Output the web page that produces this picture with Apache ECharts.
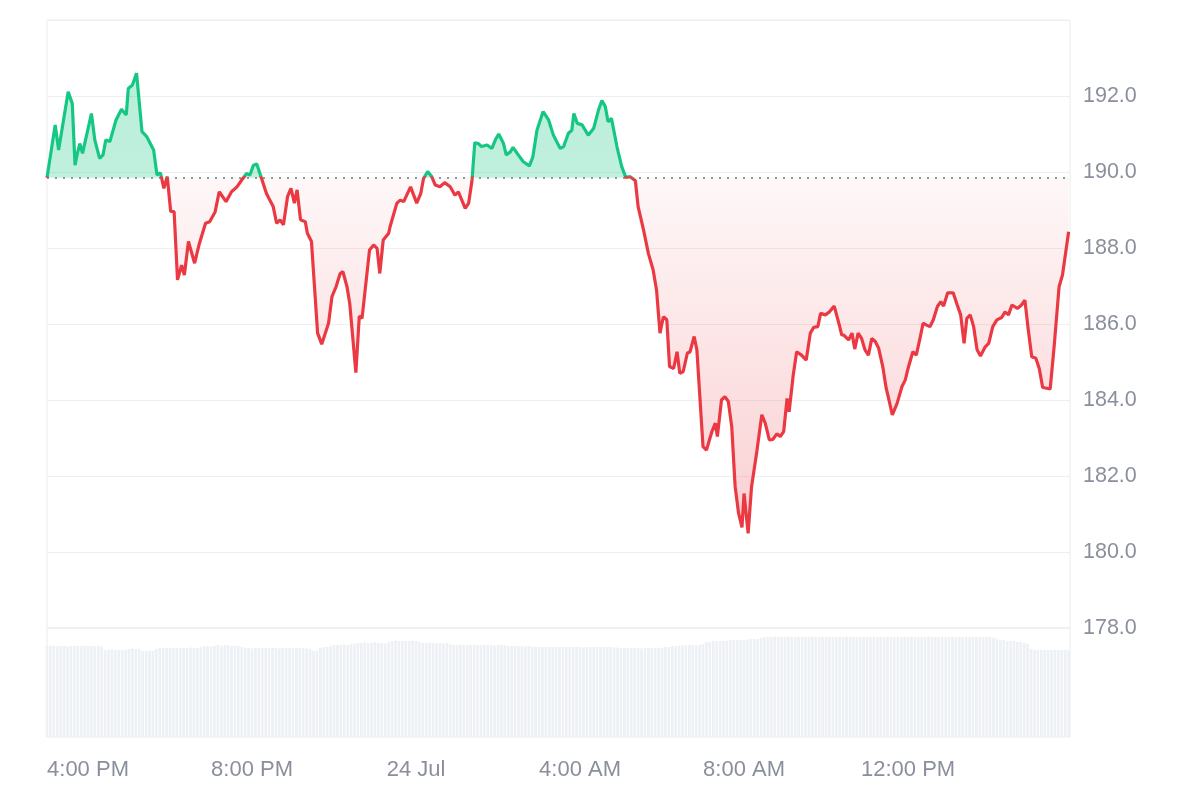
<!DOCTYPE html>
<html>
<head>
<meta charset="utf-8">
<script src="https://cdn.jsdelivr.net/npm/echarts@6/dist/echarts.min.js"></script>
<style>
html,body{margin:0;padding:0;background:#fff;}
#chart{width:1200px;height:800px;}
</style>
</head>
<body>
<div id="chart"></div>
<script>
// minutes after 3:00 PM (23 Jul)
const times = [0,12,17,31,37,41,44,48,52,65,70,77,82,86,92,101,109,116,119,125,131,139,146,156,161,166,171,176,181,186,
191,197,201,207,216,223,232,238,246,252,262,270,278,285,292,297,302,307,314,321,326,331,336,341,346,352,357,362,366,371,
378,381,387,396,402,412,417,423,429,433,439,443,452,457,461,472,478,483,487,492,500,502,512,517,522,532,541,547,551,557,
563,568,575,582,590,597,602,607,612,617,622,626,631,636,644,651,656,661,668,672,678,682,688,697,706,711,717,726,734,741,
751,756,763,768,771,776,783,792,800,807,812,817,821,826,834,841,847,853,861,865,873,880,887,892,897,902,907,911,917,922,
926,931,937,941,947,951,960,965,973,978,981,987,992,997,1002,1007,1012,1017,1020,1026,1031,1039,1046,1051,1057,1062,1068,1073,1078,1083,
1086,1092,1097,1104,1111,1117,1122,1128,1132,1139,1145,1152,1160,1163,1166,1173,1178,1182,1187,1192,1197,1202,1207,1212,1217,1223,1228,1231,1237,1244,
1251,1256,1260,1267,1272,1277,1282,1287,1292,1297,1303,1308,1312,1318,1326,1332,1337,1342,1346,1351,1356,1361,1366,1373,1378,1384,1390,1397,1402,1407,
1412,1420,1426,1431,1436,1441,1447,1452,1457,1463,1468,1474,1481,1486,1495];

const prices = [189.85,191.24,190.58,192.11,191.80,190.18,190.45,190.75,190.49,191.54,190.84,190.36,190.45,190.84,190.80,191.37,191.65,191.50,192.20,192.29,192.60,191.06,190.93,190.58,189.92,189.98,189.57,189.88,188.96,188.96,
187.16,187.55,187.29,188.17,187.60,188.12,188.65,188.69,188.95,189.48,189.22,189.48,189.61,189.79,189.96,189.92,190.18,190.21,189.83,189.44,189.26,189.09,188.65,188.74,188.61,189.35,189.57,189.18,189.53,188.74,
188.69,188.39,188.17,185.76,185.47,186.02,186.72,186.98,187.33,187.38,186.98,186.54,184.72,186.21,186.15,187.95,188.08,187.99,187.33,188.21,188.39,188.56,189.18,189.26,189.22,189.61,189.18,189.44,189.83,190.01,
189.88,189.66,189.61,189.72,189.61,189.39,189.48,189.26,189.04,189.18,189.79,190.77,190.75,190.67,190.71,190.62,190.84,191.00,190.75,190.45,190.53,190.65,190.49,190.27,190.16,190.40,191.10,191.59,191.37,190.97,
190.62,190.67,191.02,191.10,191.54,191.28,191.24,190.97,191.15,191.63,191.88,191.72,191.32,191.41,190.67,190.14,189.86,189.88,189.77,189.09,188.47,187.86,187.42,186.89,185.76,186.19,186.11,184.88,184.83,185.27,
184.70,184.75,185.23,185.27,185.67,185.32,182.77,182.68,183.17,183.39,183.04,184.00,184.09,183.96,183.30,181.72,181.02,180.65,181.54,180.49,181.72,182.68,183.61,183.39,182.95,182.96,183.11,183.04,183.17,184.04,
183.69,184.66,185.27,185.18,185.05,185.76,185.91,185.93,186.28,186.24,186.32,186.47,185.93,185.71,185.71,185.58,185.76,185.34,185.76,185.62,185.32,185.18,185.62,185.54,185.36,184.88,184.31,184.09,183.61,183.91,
184.35,184.53,184.83,185.27,185.18,185.58,186.02,185.97,185.93,186.11,186.46,186.59,186.47,186.82,186.82,186.50,186.24,185.49,186.15,186.24,185.93,185.32,185.16,185.40,185.49,185.93,186.11,186.17,186.32,186.24,
186.50,186.41,186.50,186.63,185.84,185.14,185.10,184.83,184.33,184.31,184.29,185.45,186.98,187.29,188.43];

// 5-minute volume bars (relative units)
const volumes = [
91,91,91.5,91,91,91,90.5,91,91,91,91,91.5,91,91,91,91,90.5,
87,87,87.5,87,87,87,87.5,
88,88.5,88,88,
86,86,86.5,86,
88,89,89,89,89,89,89,89,89,89,89.5,89,89,90,
91,91,90.5,91,92,91,92,92,91,91,91,90,
89,89,88.5,89,89,89,89,89,89,89,88.5,89,89,89,89,89,89,89,88.5,88,
86,86.5,
89,90,90,
91,92,92,92,92.5,92,93,93,
94,94,94.5,94,94,95,94,94,93.5,95,
96,96.5,96,96,96,96,96.5,96,95,
94,94,94.5,94,94,94,93.5,94,
93,92,92,92,92,92,92,92.5,92,92,92,92,92,91.5,92,92,92,
91,91,91,91,91,90.5,91,
90,90,90,90,90,90,90,90,90,
90,90,90,90,90,90,89.5,90,90,90,90,90,90,90,90,89.5,89.5,89,
89,89,89,89,89,88.5,89,89,89,89,89.5,89,90,90,
91,91,91.5,91.5,91.5,92,92,92,92,93,
95,95,96,96,96,96,96.5,97,97,97,97,97,97.5,98,98,98,99,
100,100,100,100.5,100,100,100,100,100,100,
100,100,100,100,100,100,100,100,100,100,
100,100,100,100,100.5,100,100,100,100,100,
100,100,100,100,100,100,100,100,100,100,
100,100,100,100,100,100,100,100,100.5,100,
100,100,100,100,100,100,100,100,100,100,
100,100,100,100,100,100,100,99.5,
98,97,97,96,96,96,95,95,94,93,
88,87,87,87,87,87,87,87,87,87,87,87
];

const basePrice = 189.85;
const xTickMinutes = [60,300,540,780,1020,1260];
const xTickLabels = ['4:00 PM','8:00 PM','24 Jul','4:00 AM','8:00 AM','12:00 PM'];

const green = '#16c784';
const red = '#ea3943';
const textColor = '#8a8f9c';
const fontFamily = 'Liberation Sans, Arial, sans-serif';

const priceData = times.map((t, i) => [t, prices[i]]);
const volData = volumes.map((v, i) => [i * 5, v]);

// split point of the colours inside the line's own bounding box (value-space ratio)
const pMax = Math.max(...prices), pMin = Math.min(...prices);
const frac = (pMax - basePrice) / (pMax - pMin);
const fracB = Math.min(1, frac + 0.0005);

const chart = echarts.init(document.getElementById('chart'), null, {renderer: 'canvas'});
const option = {
  animation: false,
  backgroundColor: '#fff',
  grid: [
    {left: 47, right: 130, top: 20, bottom: 172, show: true, borderColor: '#ececec', borderWidth: 1},
    {left: 47, right: 130, top: 628, bottom: 63, show: true, borderColor: '#ececec', borderWidth: 1}
  ],
  xAxis: [
    {type: 'value', gridIndex: 0, min: 0, max: 1497,
     axisLine: {show: false}, axisTick: {show: false}, axisLabel: {show: false}, splitLine: {show: false}},
    {type: 'value', gridIndex: 1, min: 0, max: 1497,
     axisLine: {show: false}, axisTick: {show: false}, splitLine: {show: false},
     axisLabel: {
       customValues: xTickMinutes,
       color: textColor, fontSize: 22, fontFamily: fontFamily, margin: 22,
       formatter: function (v) { const k = xTickMinutes.indexOf(Math.round(v)); return k >= 0 ? xTickLabels[k] : ''; }
     }}
  ],
  yAxis: [
    {type: 'value', gridIndex: 0, position: 'right', min: 178, max: 194, interval: 2,
     axisLine: {show: false}, axisTick: {show: false},
     splitLine: {show: true, lineStyle: {color: '#efefef', width: 1}},
     axisLabel: {color: textColor, fontSize: 21.5, fontFamily: fontFamily, margin: 13,
       padding: [4, 0, 0, 0],
       showMaxLabel: false,
       formatter: function (v) { return v >= 193.5 ? '' : v.toFixed(1); }}},
    {type: 'value', gridIndex: 1, min: 0, max: 109, show: false}
  ],
  series: [
    {
      type: 'line', xAxisIndex: 0, yAxisIndex: 0, data: priceData,
      symbol: 'none', smooth: false,
      lineStyle: {
        width: 3.2,
        color: new echarts.graphic.LinearGradient(0, 0, 0, 1, [
          {offset: 0, color: green},
          {offset: frac, color: green},
          {offset: fracB, color: red},
          {offset: 1, color: red}
        ])
      },
      areaStyle: {
        origin: basePrice,
        opacity: 1,
        color: new echarts.graphic.LinearGradient(0, 0, 0, 1, [
          {offset: 0, color: 'rgba(22,199,132,0.30)'},
          {offset: frac, color: 'rgba(22,199,132,0.27)'},
          {offset: fracB, color: 'rgba(234,57,67,0.04)'},
          {offset: 1, color: 'rgba(234,57,67,0.24)'}
        ])
      },
      markLine: {
        silent: true, symbol: 'none', label: {show: false},
        lineStyle: {type: [2, 6], color: '#777', width: 1.5},
        data: [{yAxis: basePrice}]
      },
      z: 3
    },
    {
      type: 'bar', xAxisIndex: 1, yAxisIndex: 1, data: volData,
      barWidth: 2.6,
      itemStyle: {color: '#edf0f4'},
      z: 1
    }
  ]
};
chart.setOption(option);
</script>
</body>
</html>
